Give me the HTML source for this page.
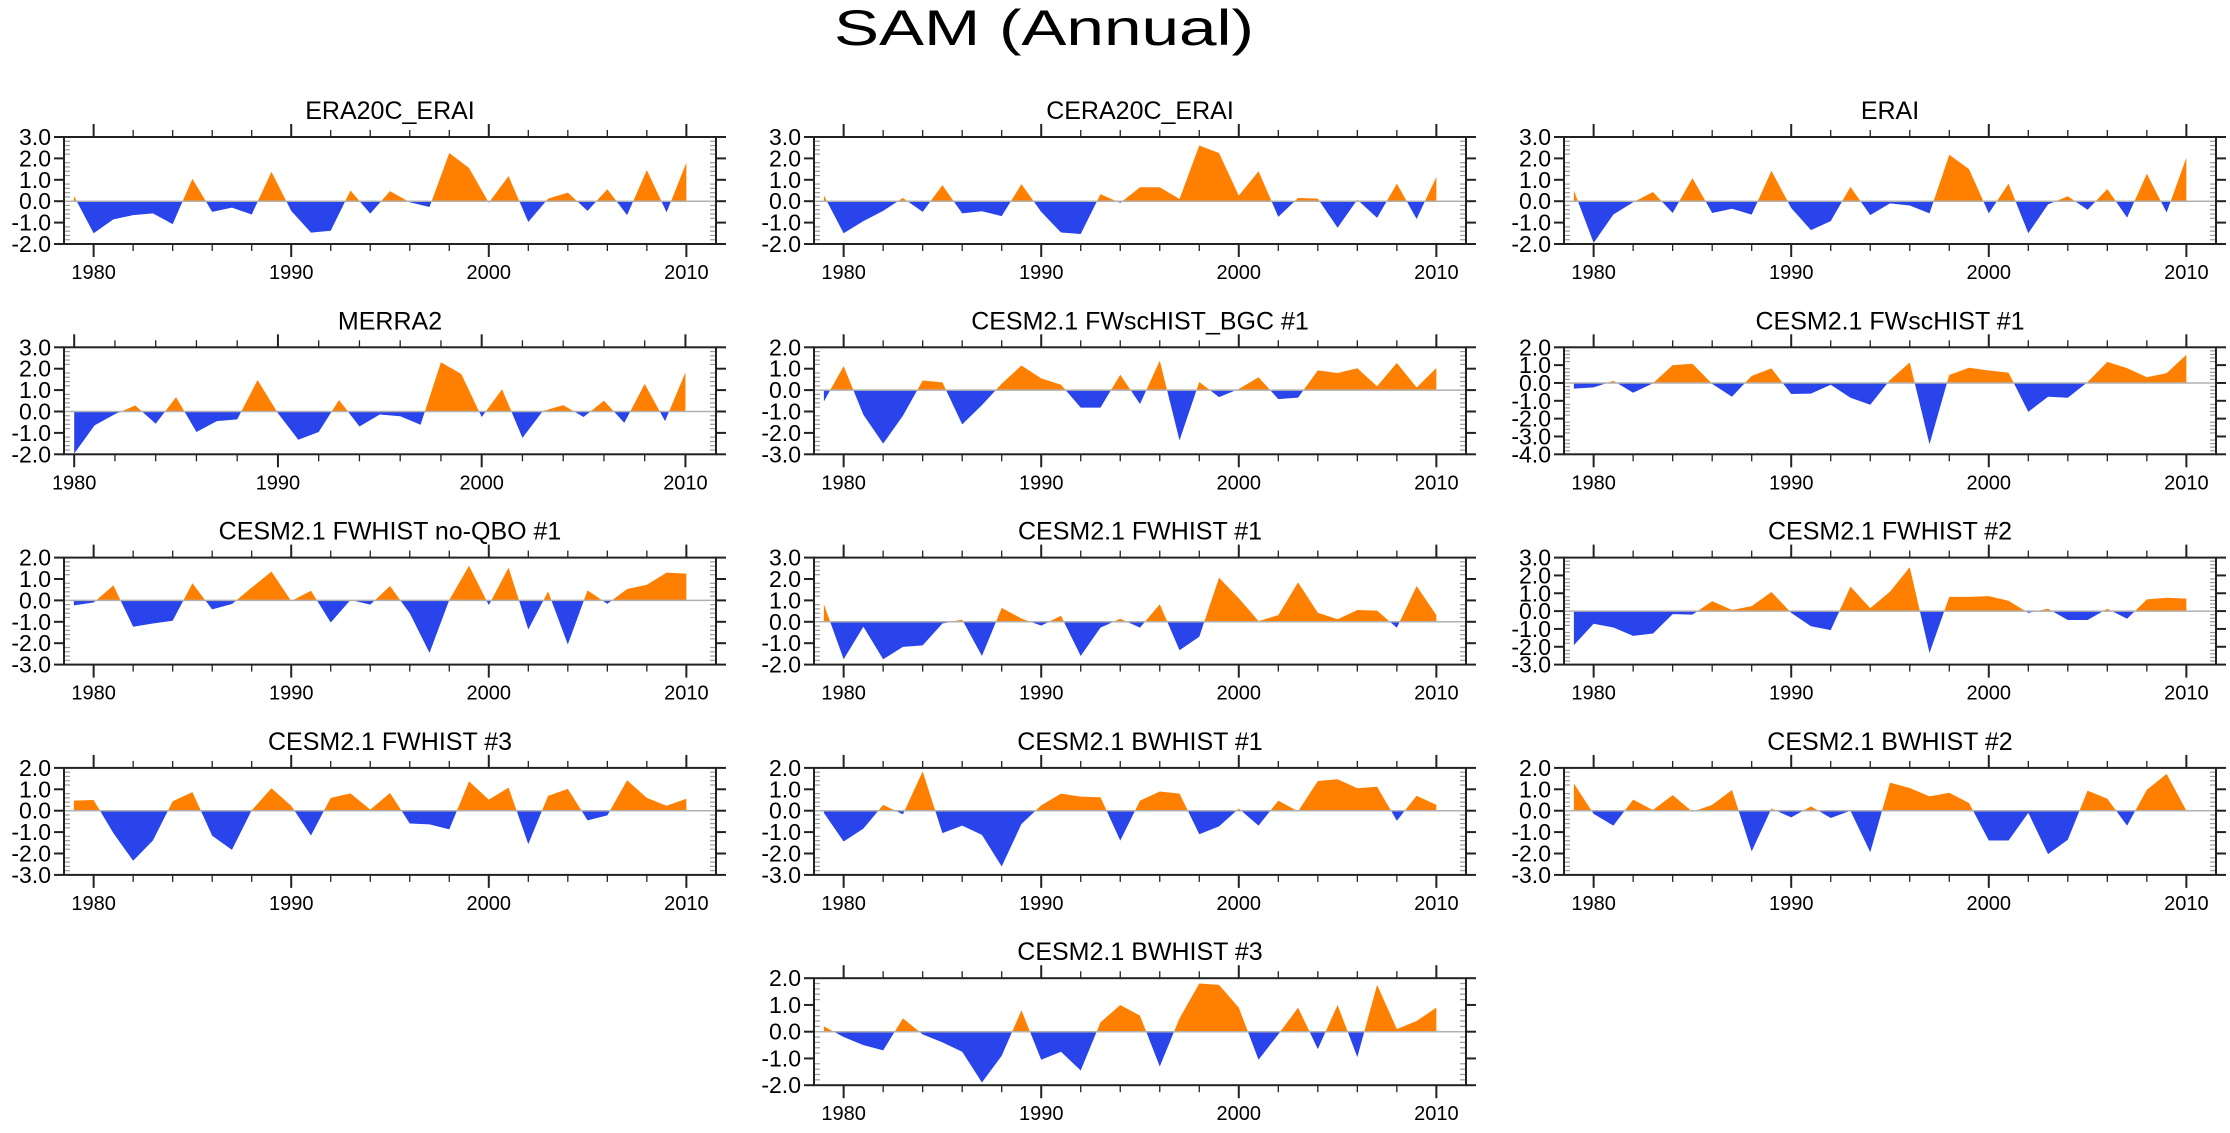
<!DOCTYPE html>
<html><head><meta charset="utf-8"><title>SAM (Annual)</title>
<style>
html,body{margin:0;padding:0;background:#fff;}
svg{display:block;font-family:"Liberation Sans",Arial,sans-serif;}
</style></head>
<body>
<svg id="fig" width="2230" height="1133" viewBox="0 0 2230 1133" xmlns="http://www.w3.org/2000/svg">
<text x="1044" y="45" text-anchor="middle" font-size="50" textLength="420" lengthAdjust="spacingAndGlyphs" fill="#000">SAM (Annual)</text>
</svg>
<script>
const years = [1979,1980,1981,1982,1983,1984,1985,1986,1987,1988,1989,1990,1991,1992,1993,1994,1995,1996,1997,1998,1999,2000,2001,2002,2003,2004,2005,2006,2007,2008,2009,2010];
const yearsMerra = [1980,1981,1982,1983,1984,1985,1986,1987,1988,1989,1990,1991,1992,1993,1994,1995,1996,1997,1998,1999,2000,2001,2002,2003,2004,2005,2006,2007,2008,2009,2010];
const titles = ["ERA20C_ERAI","CERA20C_ERAI","ERAI","MERRA2","CESM2.1 FWscHIST_BGC #1","CESM2.1 FWscHIST #1","CESM2.1 FWHIST no-QBO #1","CESM2.1 FWHIST #1","CESM2.1 FWHIST #2","CESM2.1 FWHIST #3","CESM2.1 BWHIST #1","CESM2.1 BWHIST #2","CESM2.1 BWHIST #3"];
const yMins = [-2,-2,-2,-2,-3,-4,-3,-2,-3,-3,-3,-3,-2];
const yMaxs = [3,3,3,3,2,2,2,3,3,2,2,2,2];
const era20c = [0.25,-1.5,-0.85,-0.65,-0.57,-1.07,1.05,-0.5,-0.3,-0.62,1.37,-0.45,-1.47,-1.38,0.5,-0.58,0.47,-0.05,-0.27,2.25,1.55,-0.07,1.17,-0.97,0.12,0.4,-0.45,0.56,-0.65,1.45,-0.52,1.8];
const cera20c = [0.27,-1.5,-0.93,-0.45,0.15,-0.5,0.75,-0.57,-0.47,-0.7,0.8,-0.5,-1.46,-1.53,0.33,-0.08,0.65,0.65,0.1,2.6,2.25,0.26,1.4,-0.73,0.15,0.12,-1.24,0.07,-0.78,0.82,-0.83,1.13];
const erai = [0.5,-1.95,-0.62,-0.05,0.43,-0.55,1.08,-0.55,-0.35,-0.63,1.42,-0.32,-1.35,-0.93,0.67,-0.65,-0.1,-0.2,-0.57,2.17,1.5,-0.57,0.82,-1.5,-0.15,0.23,-0.4,0.57,-0.77,1.28,-0.53,2.03];
const merra2 = [-1.97,-0.65,-0.12,0.28,-0.57,0.67,-0.96,-0.45,-0.37,1.47,-0.08,-1.32,-0.96,0.54,-0.7,-0.14,-0.22,-0.62,2.3,1.75,-0.26,1.04,-1.23,0.02,0.3,-0.26,0.51,-0.53,1.29,-0.45,1.83];
const fwscBgc1 = [-0.53,1.12,-1.15,-2.5,-1.2,0.45,0.36,-1.6,-0.7,0.3,1.15,0.55,0.25,-0.82,-0.82,0.72,-0.65,1.38,-2.35,0.38,-0.33,0.05,0.6,-0.42,-0.35,0.92,0.8,1.02,0.18,1.27,0.12,1.03];
const fwsc1 = [-0.32,-0.25,0.12,-0.55,-0.02,1.0,1.08,-0.05,-0.77,0.4,0.82,-0.62,-0.6,-0.1,-0.83,-1.22,0.17,1.15,-3.44,0.45,0.85,0.7,0.58,-1.62,-0.77,-0.83,0.05,1.18,0.83,0.32,0.55,1.58];
const fwNoQbo1 = [-0.23,-0.1,0.7,-1.23,-1.08,-0.95,0.8,-0.42,-0.17,0.6,1.35,-0.03,0.45,-1.03,0.02,-0.2,0.67,-0.6,-2.45,0.02,1.62,-0.22,1.53,-1.36,0.42,-2.06,0.47,-0.16,0.53,0.73,1.3,1.25];
const fw1 = [0.82,-1.75,-0.23,-1.75,-1.17,-1.1,-0.08,0.1,-1.6,0.65,0.15,-0.18,0.28,-1.6,-0.27,0.14,-0.27,0.82,-1.33,-0.7,2.06,1.1,0.03,0.31,1.84,0.42,0.12,0.55,0.52,-0.28,1.67,0.31];
const fw2 = [-1.91,-0.71,-0.92,-1.39,-1.26,-0.17,-0.2,0.56,0.06,0.28,1.07,-0.1,-0.85,-1.07,1.37,0.17,1.09,2.46,-2.35,0.8,0.8,0.84,0.58,-0.1,0.13,-0.5,-0.5,0.13,-0.43,0.66,0.75,0.7];
const fw3 = [0.47,0.5,-1.05,-2.34,-1.39,0.44,0.87,-1.17,-1.83,0.02,1.05,0.23,-1.16,0.6,0.81,0.05,0.83,-0.6,-0.64,-0.87,1.37,0.52,1.08,-1.56,0.69,1.02,-0.45,-0.22,1.42,0.6,0.23,0.56];
const bw1 = [-0.1,-1.44,-0.84,0.27,-0.17,1.84,-1.05,-0.7,-1.13,-2.61,-0.62,0.25,0.8,0.66,0.63,-1.4,0.47,0.9,0.8,-1.1,-0.73,0.1,-0.7,0.47,-0.03,1.39,1.47,1.05,1.12,-0.47,0.7,0.27];
const bw2 = [1.27,-0.15,-0.7,0.52,0.03,0.73,-0.05,0.27,0.97,-1.9,0.1,-0.31,0.2,-0.34,0.0,-1.94,1.31,1.06,0.67,0.84,0.36,-1.39,-1.39,-0.1,-2.03,-1.36,0.94,0.56,-0.7,0.98,1.72,0.0];
const bw3 = [0.2,-0.2,-0.5,-0.7,0.5,-0.1,-0.4,-0.75,-1.9,-0.9,0.8,-1.05,-0.75,-1.45,0.35,1.0,0.6,-1.3,0.5,1.8,1.75,0.9,-1.05,-0.1,0.9,-0.65,1.0,-0.95,1.75,0.1,0.4,0.9];
const xTickYears = [1980,1990,2000,2010];

const seriesList = [era20c,cera20c,erai,merra2,fwscBgc1,fwsc1,fwNoQbo1,fw1,fw2,fw3,bw1,bw2,bw3];
const yearList = [years,years,years,yearsMerra,years,years,years,years,years,years,years,years,years];
const xMins = [1978.5,1978.5,1978.5,1979.5,1978.5,1978.5,1978.5,1978.5,1978.5,1978.5,1978.5,1978.5,1978.5];
const X_MAX = 2011.5;
const colLeft = [64,814,1564];
const PW = 652, PH = 107;
const ORANGE = "#ff8000", BLUE = "#2944eb";
const NS = "http://www.w3.org/2000/svg";
const svg = document.getElementById("fig");

function mk(tag, attrs, parent){
  const e = document.createElementNS(NS, tag);
  for (const k in attrs) e.setAttribute(k, attrs[k]);
  (parent||svg).appendChild(e);
  return e;
}

seriesList.forEach(function(vals, i){
  const row = Math.floor(i/3);
  const col = i === 12 ? 1 : i % 3;
  const L = colLeft[col], T = 137 + 210.3*row, R = L + PW, B = T + PH;
  const yMin = yMins[i], yMax = yMaxs[i], xMin = xMins[i];
  const xs = function(yr){ return L + (yr - xMin)/(X_MAX - xMin)*PW; };
  const ys = function(v){ return B - (v - yMin)/(yMax - yMin)*PH; };
  const yrs = yearList[i];

  const g = mk("g", {});
  
  

  const t = mk("text", {x:(L+R)/2, y:T-18, "text-anchor":"middle", "font-size":"25", fill:"#000"}, g);
  t.textContent = titles[i];
  
  

  const z = ys(0);
  const cid = "c" + i;
  const defs = mk("defs", {}, g);
  const cpA = mk("clipPath", {id:cid+"a"}, defs);
  mk("rect", {x:L, y:T, width:PW, height:z-T}, cpA);
  const cpB = mk("clipPath", {id:cid+"b"}, defs);
  mk("rect", {x:L, y:z, width:PW, height:B-z}, cpB);

  let pts = xs(yrs[0]).toFixed(2) + "," + z.toFixed(2) + " ";
  yrs.forEach(function(yr, k){ pts += xs(yr).toFixed(2) + "," + ys(vals[k]).toFixed(2) + " "; });
  pts += xs(yrs[yrs.length-1]).toFixed(2) + "," + z.toFixed(2);

  const pos = mk("polygon", {points:pts, fill:ORANGE, "clip-path":"url(#"+cid+"a)"}, g);
  
  
  const neg = mk("polygon", {points:pts, fill:BLUE, "clip-path":"url(#"+cid+"b)"}, g);
  
  

  const zl = mk("line", {x1:L, x2:R, y1:z, y2:z, stroke:"#b0b0b0", "stroke-width":"1.5"}, g);
  
  

  for (let v = yMin; v <= yMax + 1e-6; v += 0.2) {
    const y = ys(v);
    const major = Math.abs(v - Math.round(v)) < 1e-6;
    if (major) {
      mk("line", {x1:L-10, x2:L, y1:y, y2:y, stroke:"#222", "stroke-width":"2"}, g);
      mk("line", {x1:R, x2:R+10, y1:y, y2:y, stroke:"#222", "stroke-width":"2"}, g);
      const lb = mk("text", {x:L-13, y:y+8, "text-anchor":"end", "font-size":"23", fill:"#000"}, g);
      lb.textContent = Math.round(v).toFixed(1);
      
      
    } else {
      mk("line", {x1:L, x2:L+6, y1:y, y2:y, stroke:"#999", "stroke-width":"1.2"}, g);
      mk("line", {x1:R-6, x2:R, y1:y, y2:y, stroke:"#999", "stroke-width":"1.2"}, g);
    }
  }
  for (let yr = 1980; yr <= 2010; yr += 2) {
    const x = xs(yr);
    const major = yr % 10 === 0;
    const len = major ? 13 : 7;
    mk("line", {x1:x, x2:x, y1:T-len, y2:T, stroke:"#222", "stroke-width":major?"2":"1.3"}, g);
    mk("line", {x1:x, x2:x, y1:B, y2:B+len, stroke:"#222", "stroke-width":major?"2":"1.3"}, g);
  }
  xTickYears.forEach(function(yr){
    const lb = mk("text", {x:xs(yr), y:B+35, "text-anchor":"middle", "font-size":"20", fill:"#000"}, g);
    lb.textContent = String(yr);
    
    
  });

  const box = mk("rect", {x:L, y:T, width:PW, height:PH, fill:"none", stroke:"#222", "stroke-width":"2"}, g);
  
  
});
</script>
</body></html>
